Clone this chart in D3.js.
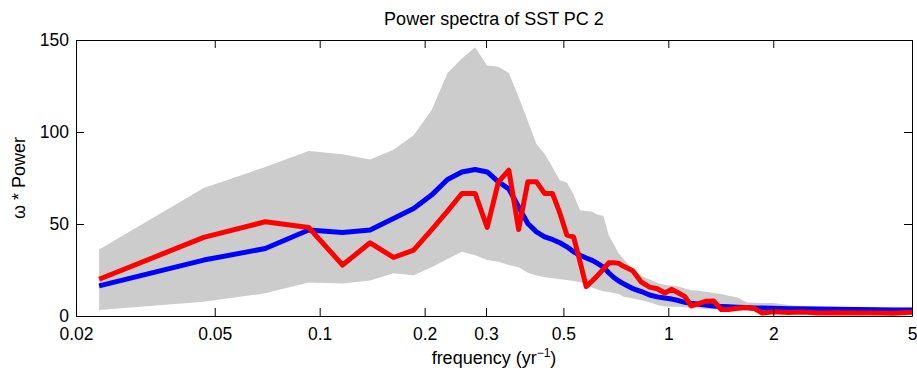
<!DOCTYPE html>
<html>
<head>
  <meta charset="UTF-8">
  <title>Power spectra of SST PC 2</title>
  <script src="https://d3js.org/d3.v7.min.js"></script>
  <style>
    body {
      margin: 0;
      background: #fff;
      font-family: "Liberation Sans", Arial, Helvetica, sans-serif;
    }
  </style>
</head>
<body>
  <div id="chart"></div>

  <script>
    // frequencies (cycles per year)
    const freq = [0.0233, 0.0465, 0.0698, 0.0930, 0.1163, 0.1395, 0.1628, 0.1860, 0.2093, 0.2326,
                  0.2558, 0.2791, 0.3023, 0.3256, 0.3488, 0.3721, 0.3953, 0.4186, 0.4419, 0.4651,
                  0.4884, 0.5116, 0.5349, 0.5581, 0.5814, 0.6047, 0.6279, 0.6512, 0.6744, 0.6977,
                  0.7209, 0.7442, 0.7674, 0.7907, 0.8372, 0.8837, 0.9302, 0.9767, 1.0233, 1.0698,
                  1.1163, 1.1628, 1.2093, 1.2791, 1.3488, 1.4186, 1.4884, 1.5814, 1.6744, 1.7674,
                  1.8605, 2.0000, 2.2093, 2.4419, 2.6744, 3.0233, 3.4884, 3.9535, 4.4186, 5.0000];

    // blue line (model mean)
    const bluePower = [16.4, 30.4, 36.7, 46.7, 45.4, 46.7, 53, 58.4, 65.7, 74.2,
                       78.3, 79.6, 78.3, 72.9, 69, 59.3, 50.3, 45.7, 43, 41.6,
                       39.8, 37.6, 34.9, 33, 31.5, 30.2, 28.5, 26.6, 23.5, 20.9,
                       19, 17.5, 16.2, 14.9, 13.3, 11.4, 10.4, 9.8, 9.2, 8.4,
                       7.4, 6.9, 6.5, 6.0, 5.4, 5.2, 5.0, 4.8, 4.6, 4.4,
                       4.3, 4.2, 4.0, 3.9, 3.8, 3.7, 3.5, 3.4, 3.3, 3.3];

    // red line (observed)
    const redPower = [20, 42.7, 51.2, 48.1, 27.7, 39.8, 31.8, 35.8, 46.8, 57,
                      66.6, 66.6, 48.1, 72.9, 79.2, 47, 72.9, 72.9, 66.6, 66.6,
                      56, 44, 43, 29.5, 16, 19, 22.2, 25.5, 28.9, 29,
                      28.6, 27, 25.8, 24.6, 18.4, 15.7, 14.8, 12.5, 14.5, 12.5,
                      10.5, 5.5, 6.5, 8, 8.2, 3.5, 3.5, 4.2, 4.6, 4,
                      1.6, 2.3, 1.9, 2.2, 1.6, 1.8, 1.6, 1.6, 1.5, 2];

    // grey envelope
    const upperPower = [36.2, 69.5, 81, 89.7, 87.9, 85, 90.4, 98.2, 111.8, 132,
                        140, 146, 136.2, 135.5, 132, 119, 106, 93.5, 88, 81,
                        73.8, 72.5, 66, 57.5, 57, 56.6, 55, 54.5, 44, 39,
                        34, 31, 28, 25.5, 21.8, 19.8, 18, 17, 16.5, 16,
                        15, 14, 13.8, 13.2, 12.5, 12, 11, 10, 7.5, 7.2,
                        7, 7, 6, 5.2, 5, 5, 4.8, 4.6, 4.6, 4.5];
    const lowerPower = [3.3, 7.8, 12.3, 18.2, 17.6, 19.3, 23.2, 22.2, 26.5, 31,
                        34.9, 33, 30.5, 29.5, 27.7, 26.5, 23.5, 22, 21, 20.5,
                        20, 19.5, 19, 18.5, 17, 15.5, 14.2, 13.5, 13, 12.5,
                        12, 10.5, 10, 9.5, 8.5, 7.5, 6, 5.2, 5, 5,
                        4.7, 4.4, 4.2, 3.8, 3.5, 3.3, 3.2, 3, 2.9, 2.8,
                        2.7, 2.6, 2.5, 2.4, 2.3, 2.2, 2.1, 2, 2, 2];

    const xTicks = [0.02, 0.05, 0.1, 0.2, 0.3, 0.5, 1, 2, 5];
    const xTickLabels = ["0.02", "0.05", "0.1", "0.2", "0.3", "0.5", "1", "2", "5"];
    const yTicks = [0, 50, 100, 150];

    const margin = {top: 40, right: 5, bottom: 59, left: 76},
          width = 917 - margin.left - margin.right,
          height = 375 - margin.top - margin.bottom;

    const svg = d3.select("#chart")
                  .append("svg")
                  .attr("width", width + margin.left + margin.right)
                  .attr("height", height + margin.top + margin.bottom);

    const g = svg.append("g")
                 .attr("transform", `translate(${margin.left},${margin.top})`);

    const x = d3.scaleLog().domain([0.02, 5]).range([0, width]);
    const y = d3.scaleLinear().domain([0, 150]).range([height, 0]);

    const data = freq.map((f, i) => ({
      f: f,
      blue: bluePower[i],
      red: redPower[i],
      lo: lowerPower[i],
      hi: upperPower[i]
    }));

    // grey band
    g.append("path")
     .datum(data)
     .attr("fill", "#cccccc")
     .attr("d", d3.area()
                  .x(d => x(d.f))
                  .y0(d => y(d.lo))
                  .y1(d => y(d.hi)));

    const line = key => d3.line().x(d => x(d.f)).y(d => y(d[key]));

    g.append("path")
     .datum(data)
     .attr("fill", "none")
     .attr("stroke", "#0000ff")
     .attr("stroke-width", 5)
     .attr("stroke-linejoin", "round")
     .attr("d", line("blue"));

    g.append("path")
     .datum(data)
     .attr("fill", "none")
     .attr("stroke", "#ff0000")
     .attr("stroke-width", 5)
     .attr("stroke-linejoin", "round")
     .attr("d", line("red"));

    // axes, ticks pointing inward (matlab style)
    const fmt = d => xTickLabels[xTicks.indexOf(d)];

    const xAxis = g.append("g")
      .attr("transform", `translate(0,${height})`)
      .call(d3.axisBottom(x).tickValues(xTicks).tickFormat(fmt)
              .tickSizeInner(-8).tickSizeOuter(0).tickPadding(12));
    g.append("g")
      .call(d3.axisTop(x).tickValues(xTicks).tickFormat("")
              .tickSizeInner(-8).tickSizeOuter(0));
    const yAxis = g.append("g")
      .call(d3.axisLeft(y).tickValues(yTicks)
              .tickSizeInner(-8).tickSizeOuter(0).tickPadding(7));
    g.append("g")
      .attr("transform", `translate(${width},0)`)
      .call(d3.axisRight(y).tickValues(yTicks).tickFormat("")
              .tickSizeInner(-8).tickSizeOuter(0));

    g.selectAll(".domain, .tick line").attr("stroke", "#000");
    g.selectAll(".tick text")
     .attr("fill", "#000")
     .style("font-family", '"Liberation Sans", Arial, sans-serif')
     .style("font-size", "17.5px");

    // title
    svg.append("text")
       .attr("x", margin.left + width / 2)
       .attr("y", 25)
       .attr("text-anchor", "middle")
       .style("font-size", "18px")
       .text("Power spectra of SST PC 2");

    // x label with superscript
    const xl = svg.append("text")
       .attr("x", margin.left + width / 2)
       .attr("y", 364)
       .attr("text-anchor", "middle")
       .style("font-size", "18px");
    xl.append("tspan").text("frequency (yr");
    xl.append("tspan").attr("dy", -7).style("font-size", "12px").text("\u22121");
    xl.append("tspan").attr("dy", 7).text(")");

    // y label
    svg.append("text")
       .attr("transform", `translate(25,${margin.top + height / 2}) rotate(-90)`)
       .attr("text-anchor", "middle")
       .style("font-size", "18px")
       .text("\u03c9 * Power");
  </script>
</body>
</html>
